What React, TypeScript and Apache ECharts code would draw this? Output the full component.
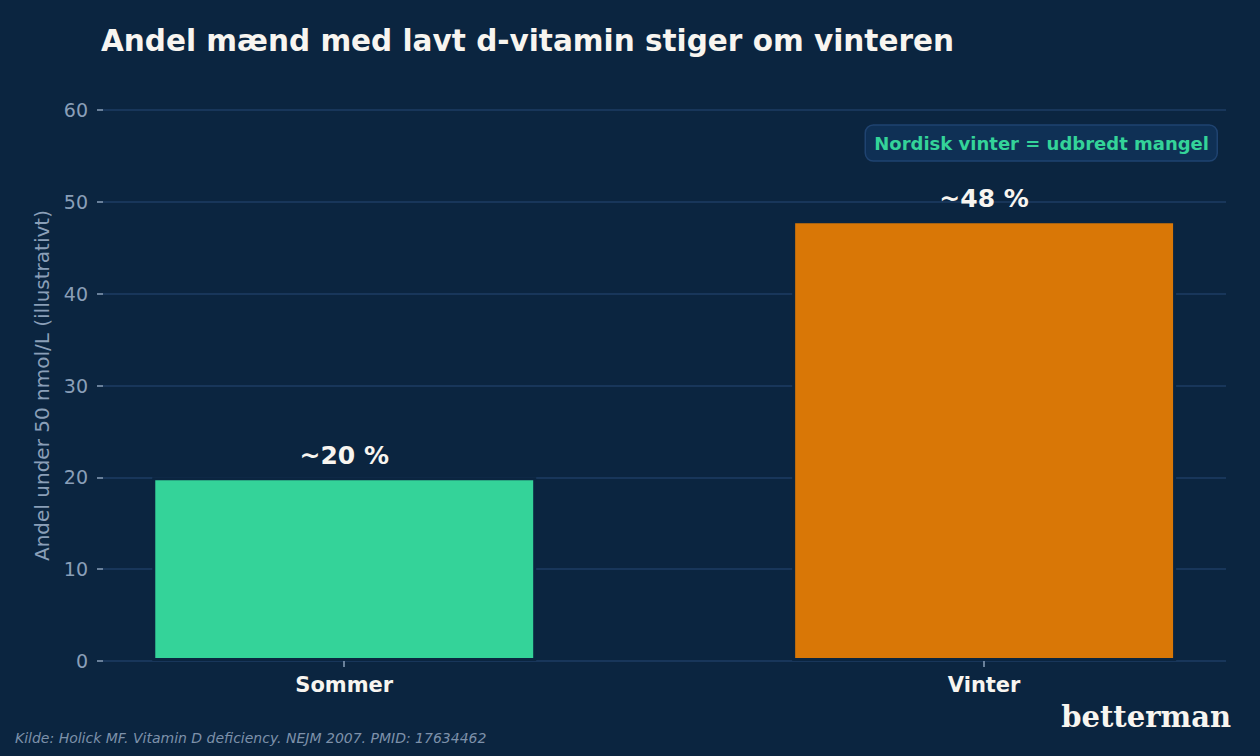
import React, { useEffect, useRef } from "react";
import * as echarts from "echarts";

// Seasonal share of men with low vitamin D (illustrative)
const categories = ["Sommer", "Vinter"];
const shares = [20, 48];
const barColors = ["#34d399", "#d97706"];
const yTicks = [0, 10, 20, 30, 40, 50, 60];

const BG = "#0b2540";
const TEXT = "#f8f5f0";
const MUTED = "#8a9fb8";
const GRID = "#1e3d63";

const W = 1260;
const H = 756;
const GRID_LEFT = 103;
const GRID_RIGHT = 34;
const GRID_TOP = 110;
const GRID_BOTTOM = 95;
const X_MIN = -0.377;
const X_MAX = 1.378;
const BAR_UNITS = 0.6;

export default function App() {
  const ref = useRef<HTMLDivElement>(null);

  useEffect(() => {
    if (!ref.current) return;
    const chart = echarts.init(ref.current, null, { renderer: "svg" });
    const plotW = W - GRID_LEFT - GRID_RIGHT;
    const barPx = (BAR_UNITS * plotW) / (X_MAX - X_MIN);

    chart.setOption({
      animation: false,
      backgroundColor: BG,
      textStyle: { fontFamily: "DejaVu Sans" },
      title: [
        {
          text: "Andel mænd med lavt d-vitamin stiger om vinteren",
          left: 101,
          top: 26,
          padding: 0,
          textStyle: { color: TEXT, fontSize: 29.5, fontWeight: "bold", fontFamily: "DejaVu Sans" },
        },
        {
          text: "Nordisk vinter = udbredt mangel",
          right: 42,
          top: 125,
          padding: [9, 9, 9, 9],
          backgroundColor: "#0f3055",
          borderColor: "#1f4370",
          borderWidth: 1.5,
          borderRadius: 8,
          textStyle: { color: "#34d399", fontSize: 18, fontWeight: "bold", fontFamily: "DejaVu Sans" },
        },
        {
          text: "Kilde: Holick MF. Vitamin D deficiency. NEJM 2007. PMID: 17634462",
          left: 15,
          top: 731,
          padding: 0,
          textStyle: { color: "#7d91aa", fontSize: 14, fontStyle: "italic", fontWeight: "normal", fontFamily: "DejaVu Sans" },
        },
        {
          text: "betterman",
          right: 29,
          top: 702,
          padding: 0,
          textStyle: { color: TEXT, fontSize: 29, fontWeight: "bold", fontFamily: "DejaVu Serif" },
        },
      ],
      grid: { left: GRID_LEFT, right: GRID_RIGHT, top: GRID_TOP, bottom: GRID_BOTTOM, containLabel: false },
      xAxis: {
        type: "value",
        min: X_MIN,
        max: X_MAX,
        axisLine: { show: false, onZero: false },
        splitLine: { show: false },
        axisTick: {
          show: true,
          customValues: [0, 1],
          length: 6,
          lineStyle: { color: MUTED, width: 1.5 },
        },
        axisLabel: {
          customValues: [0, 1],
          formatter: (v: number) => categories[Math.round(v)] ?? "",
          color: TEXT,
          fontSize: 21,
          fontWeight: "bold",
          margin: 13,
        },
      },
      yAxis: {
        type: "value",
        min: 0,
        max: 60,
        interval: 10,
        name: "Andel under 50 nmol/L (illustrativt)",
        nameLocation: "middle",
        nameGap: 51,
        nameTextStyle: { color: MUTED, fontSize: 20 },
        axisLine: { show: false, onZero: false },
        axisTick: { show: true, length: 6, lineStyle: { color: MUTED, width: 1.5 } },
        axisLabel: {
          color: MUTED,
          fontSize: 19,
          margin: 15,
          formatter: (v: number) => (yTicks.includes(v) ? String(v) : ""),
        },
        splitLine: { show: true, lineStyle: { color: GRID, width: 1.5 } },
      },
      series: [
        {
          type: "bar",
          barWidth: barPx,
          data: shares.map((v, i) => ({
            value: [i, v],
            itemStyle: { color: barColors[i], borderColor: BG, borderWidth: 3 },
          })),
          label: {
            show: true,
            position: "top",
            distance: 9,
            color: TEXT,
            fontSize: 25,
            fontWeight: "bold",
            formatter: (p: any) => `~${p.value[1]} %`,
          },
        },
      ],
    });

    return () => chart.dispose();
  }, []);

  return (
    <div
      ref={ref}
      style={{ position: "fixed", left: 0, top: 0, width: W, height: H }}
    />
  );
}
